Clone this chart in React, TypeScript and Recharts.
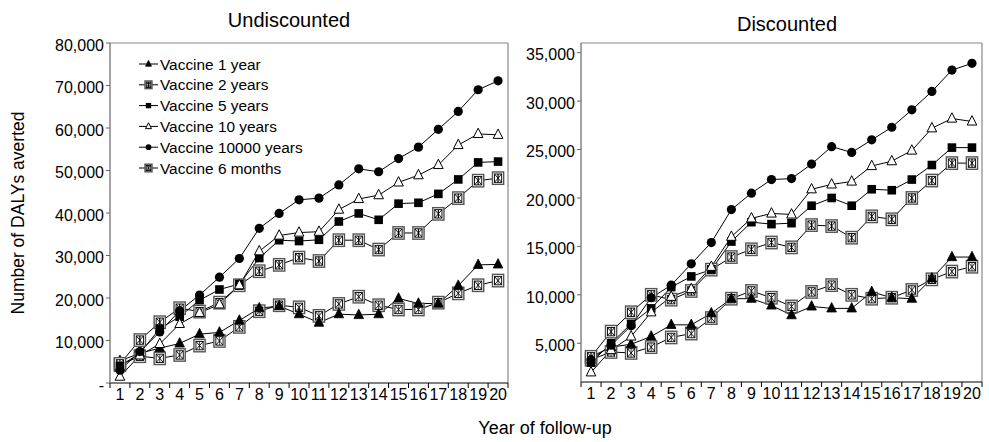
import React from 'react';
import { LineChart, Line, XAxis, YAxis } from 'recharts';

const years = [1, 2, 3, 4, 5, 6, 7, 8, 9, 10, 11, 12, 13, 14, 15, 16, 17, 18, 19, 20];

const seriesNames = [
  'Vaccine 1 year',
  'Vaccine 2 years',
  'Vaccine 5 years',
  'Vaccine 10 years',
  'Vaccine 10000 years',
  'Vaccine 6 months',
];

// Undiscounted
const und1y = [5200, 7000, 8200, 9300, 11500, 11900, 14700, 17600, 18100, 16200, 14200, 16200, 16000, 16200, 19900, 18700, 18700, 22900, 27800, 27900];
const und2y = [4500, 10100, 14300, 17600, 16800, 18900, 23000, 26300, 27800, 29500, 28700, 33600, 33600, 31400, 35300, 35300, 39800, 43500, 47600, 48200];
const und5y = [4000, 7000, 12800, 15600, 19500, 22000, 23300, 29400, 33600, 33400, 33700, 38000, 39900, 38400, 42200, 42400, 44500, 47900, 51900, 52100];
const und10y = [1500, 6500, 9200, 13900, 16500, 18500, 23000, 31000, 34700, 35400, 35600, 40800, 43300, 44200, 47200, 48900, 51300, 56000, 58600, 58400];
const und10000y = [3000, 7400, 12000, 17000, 20700, 24900, 29300, 36400, 39900, 43100, 43500, 46600, 50400, 49700, 52800, 55500, 59700, 63900, 69000, 71100];
const und6m = [4200, 6300, 5800, 6600, 8800, 9900, 13200, 16900, 18300, 17800, 15800, 18600, 20300, 18300, 17300, 17300, 18900, 21100, 23000, 24100];

// Discounted
const disc1y = [3600, 4600, 4900, 5700, 6900, 6900, 8100, 9600, 9600, 8900, 7900, 8800, 8600, 8600, 10300, 9700, 9600, 11700, 13900, 13900];
const disc2y = [3600, 6200, 8200, 10000, 9500, 10400, 12600, 13900, 14700, 15400, 14900, 17200, 17100, 15900, 18100, 17800, 20000, 21800, 23600, 23600];
const disc5y = [3000, 5000, 7000, 8600, 10800, 11900, 12600, 15500, 17500, 17300, 17400, 19200, 20000, 19200, 20900, 20800, 21900, 23400, 25200, 25200];
const disc10y = [2000, 4300, 5700, 8200, 9800, 10600, 12900, 16000, 17900, 18400, 18300, 20900, 21400, 21700, 23300, 23800, 24900, 27200, 28200, 27900];
const disc10000y = [3300, 4800, 6800, 9700, 11000, 13200, 15400, 18800, 20500, 21900, 22000, 23500, 25300, 24700, 26000, 27300, 29100, 31000, 33200, 33900];
const disc6m = [3300, 4100, 4000, 4600, 5600, 6000, 7600, 9600, 10400, 9700, 8800, 10300, 11000, 10000, 9600, 9700, 10500, 11600, 12400, 12900];

const leftYTicks = [0, 10000, 20000, 30000, 40000, 50000, 60000, 70000, 80000];
const rightYTicks = [5000, 10000, 15000, 20000, 25000, 30000, 35000];
const xTicks = years.flatMap((y) => [y - 0.5, y]).concat([20.5]);

const FONT = '"Liberation Sans", Arial, Helvetica, sans-serif';

type Kind = 'triF' | 'box2' | 'sqF' | 'triO' | 'circ' | 'box6';
const kinds: Kind[] = ['triF', 'box2', 'sqF', 'triO', 'circ', 'box6'];
const keys = ['v1', 'v2', 'v5', 'v10', 'v10000', 'v6m'];

function renderMarker(kind: Kind, cx: number, cy: number, s: number, key: string) {
  if (cx == null || cy == null) return <g key={key} />;
  switch (kind) {
    case 'triF':
      return (
        <polygon key={key} points={`${cx},${cy - 5.8 * s} ${cx - 4.8 * s},${cy + 3.6 * s} ${cx + 4.8 * s},${cy + 3.6 * s}`} fill="#000" stroke="#000" strokeWidth={0.8} />
      );
    case 'triO':
      return (
        <polygon key={key} points={`${cx},${cy - 5.8 * s} ${cx - 4.8 * s},${cy + 3.6 * s} ${cx + 4.8 * s},${cy + 3.6 * s}`} fill="#fff" stroke="#000" strokeWidth={1} />
      );
    case 'sqF':
      return <rect key={key} x={cx - 4.3 * s} y={cy - 4.3 * s} width={8.6 * s} height={8.6 * s} fill="#000" />;
    case 'circ':
      return <circle key={key} cx={cx} cy={cy} r={4.6 * s} fill="#000" />;
    default: {
      const ow = 5.6 * s;
      const oh = 6.2 * s;
      const iw = 3.6 * s;
      const ih = 4.2 * s;
      return (
        <g key={key}>
          <rect x={cx - ow} y={cy - oh} width={ow * 2} height={oh * 2} fill="#fff" stroke="#555" strokeWidth={1.4} />
          <rect x={cx - iw} y={cy - ih} width={iw * 2} height={ih * 2} fill="#fff" stroke="#000" strokeWidth={0.9} />
          <line x1={cx - iw} y1={cy - ih} x2={cx + iw} y2={cy + ih} stroke="#000" strokeWidth={0.9} />
          <line x1={cx + iw} y1={cy - ih} x2={cx - iw} y2={cy + ih} stroke="#000" strokeWidth={0.9} />
          {kind === 'box2' ? (
            <line x1={cx} y1={cy - ih} x2={cx} y2={cy + ih} stroke="#000" strokeWidth={1.2} />
          ) : (
            <line x1={cx} y1={cy - ih} x2={cx} y2={cy + ih} stroke="#000" strokeWidth={0.7} />
          )}
        </g>
      );
    }
  }
}

const XTick = (props: any) => {
  const { x, y, payload } = props;
  const v = payload.value;
  if (Number.isInteger(v)) {
    return (
      <text x={x} y={y + 17} textAnchor="middle" fontSize={16} fill="#000" fontFamily={FONT}>
        {v}
      </text>
    );
  }
  return <line x1={x} y1={y} x2={x} y2={y + 5} stroke="#000" strokeWidth={1} />;
};

function buildRows(arrs: number[][]) {
  return years.map((y, i) => {
    const row: any = { year: y };
    keys.forEach((k, j) => {
      row[k] = arrs[j][i];
    });
    return row;
  });
}

const undRows = buildRows([und1y, und2y, und5y, und10y, und10000y, und6m]);
const discRows = buildRows([disc1y, disc2y, disc5y, disc10y, disc10000y, disc6m]);

// draw order: low series first
const drawOrder = [5, 0, 1, 2, 3, 4];

function Panel(props: {
  rows: any[];
  width: number;
  margin: any;
  yWidth: number;
  domain: number[];
  ticks: number[];
  zeroDash: boolean;
}) {
  const { rows, width, margin, yWidth, domain, ticks, zeroDash } = props;
  return (
    <LineChart width={width} height={442} data={rows} margin={margin}>
      <XAxis
        xAxisId="top"
        orientation="top"
        type="number"
        dataKey="year"
        domain={[0.5, 20.5]}
        tick={false}
        tickLine={false}
        height={2}
        axisLine={{ stroke: '#888', strokeWidth: 1.2 }}
      />
      <YAxis
        yAxisId="right"
        orientation="right"
        type="number"
        domain={[0, 1]}
        tick={false}
        tickLine={false}
        width={2}
        axisLine={{ stroke: '#888', strokeWidth: 1.2 }}
      />
      <XAxis
        type="number"
        dataKey="year"
        domain={[0.5, 20.5]}
        ticks={xTicks}
        interval={0}
        tick={XTick}
        tickLine={false}
        tickSize={0}
        tickMargin={0}
        height={30}
        allowDataOverflow
        axisLine={{ stroke: '#000', strokeWidth: 1 }}
      />
      <YAxis
        type="number"
        domain={domain}
        ticks={ticks}
        interval={0}
        width={yWidth}
        allowDataOverflow
        tickSize={4}
        tickMargin={2}
        axisLine={{ stroke: '#666', strokeWidth: 1.2 }}
        tickLine={{ stroke: '#666' }}
        tick={{ fontSize: 16, fill: '#000', fontFamily: FONT, dy: 2 }}
        tickFormatter={(v: number) => (zeroDash && v === 0 ? '-' : v.toLocaleString('en-US'))}
      />
      {drawOrder.map((j) => (
        <Line
          key={keys[j]}
          dataKey={keys[j]}
          name={seriesNames[j]}
          stroke="#000"
          strokeWidth={1}
          isAnimationActive={false}
          activeDot={false}
          dot={(p: any) => renderMarker(kinds[j], p.cx, p.cy, 1, `${keys[j]}-${p.index}`)}
        />
      ))}
    </LineChart>
  );
}

export default function App() {
  const legendTop = 64;
  const legendStep = 20.8;
  return (
    <div style={{ position: 'absolute', left: 0, top: 0, width: 989, height: 442, background: '#fff', fontFamily: FONT }}>
      <div style={{ position: 'absolute', left: 0, top: 0 }}>
        <Panel
          rows={undRows}
          width={520}
          margin={{ top: 41, right: 10, bottom: 29, left: 0 }}
          yWidth={110}
          domain={[0, 80000]}
          ticks={leftYTicks}
          zeroDash
        />
      </div>
      <div style={{ position: 'absolute', left: 500, top: 0 }}>
        <Panel
          rows={discRows}
          width={489}
          margin={{ top: 41, right: 5, bottom: 30, left: 0 }}
          yWidth={81}
          domain={[1000, 36000]}
          ticks={rightYTicks}
          zeroDash={false}
        />
      </div>
      <svg width={989} height={442} style={{ position: 'absolute', left: 0, top: 0, pointerEvents: 'none' }}>
        <text x={289} y={20} textAnchor="middle" dominantBaseline="central" fontSize={20} fontFamily={FONT} fill="#000">
          Undiscounted
        </text>
        <text x={787} y={24} textAnchor="middle" dominantBaseline="central" fontSize={20} fontFamily={FONT} fill="#000">
          Discounted
        </text>
        <text
          x={18}
          y={213}
          textAnchor="middle"
          dominantBaseline="central"
          fontSize={17.5}
          fontFamily={FONT}
          fill="#000"
          transform="rotate(-90 18 213)"
        >
          Number of DALYs averted
        </text>
        <text x={545} y={428} textAnchor="middle" dominantBaseline="central" fontSize={18} fontFamily={FONT} fill="#000">
          Year of follow-up
        </text>
        {seriesNames.map((name, j) => {
          const cy = legendTop + j * legendStep;
          return (
            <g key={name}>
              <line x1={139} y1={cy} x2={158} y2={cy} stroke="#000" strokeWidth={1} />
              {renderMarker(kinds[j], 148.5, cy, 0.62, `leg-${j}`)}
              <text x={160} y={cy} dominantBaseline="central" fontSize={15.4} fontFamily={FONT} fill="#000">
                {name}
              </text>
            </g>
          );
        })}
      </svg>
    </div>
  );
}
